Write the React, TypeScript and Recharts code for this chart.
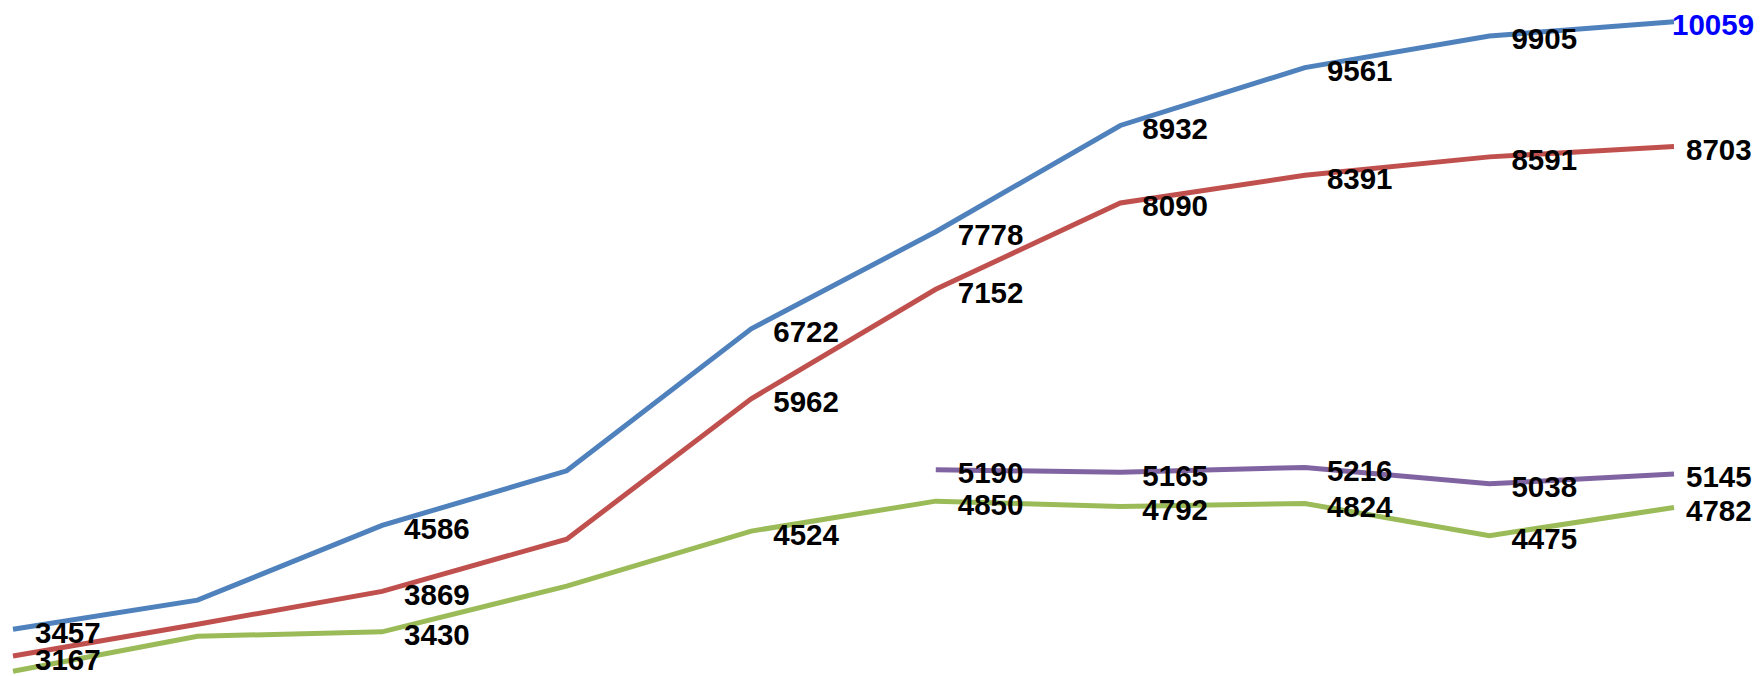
import React from "react";
import { LineChart, Line, XAxis, YAxis, LabelList } from "recharts";

const categories = ["1", "2", "3", "4", "5", "6", "7", "8", "9", "10"];

const blueValues = [3457, 3774, 4586, 5180, 6722, 7778, 8932, 9561, 9905, 10059];
const redValues = [3167, 3513, 3869, 4437, 5962, 7152, 8090, 8391, 8591, 8703];
const greenValues = [3002, 3382, 3430, 3926, 4524, 4850, 4792, 4824, 4475, 4782];
const purpleValues = [null, null, null, null, null, 5190, 5165, 5216, 5038, 5145];

// which points carry a value label
const blueLabeled = [true, false, true, false, true, true, true, true, true, true];
const redLabeled = [true, false, true, false, true, true, true, true, true, true];
const greenLabeled = [false, false, true, false, true, true, true, true, true, true];
const purpleLabeled = [false, false, false, false, false, true, true, true, true, true];

const data = categories.map((c, i) => ({
  name: c,
  blue: blueValues[i],
  red: redValues[i],
  green: greenValues[i],
  purple: purpleValues[i],
}));

const LAST = categories.length - 1;

const makeLabel =
  (flags: boolean[], highlightLast = false) =>
  (props: any) => {
    const { x, y, value, index } = props;
    if (value == null || !flags[index]) return null;
    const isLast = index === LAST;
    let tx = x + 22;
    let fill = "#000000";
    if (isLast) tx = x + 12;
    if (isLast && highlightLast) {
      tx = x - 2;
      fill = "#0000FF";
    }
    return (
      <text
        x={tx}
        y={y + 3}
        fill={fill}
        fontFamily="'Liberation Sans', Arial, sans-serif"
        fontWeight="bold"
        fontSize={29.5}
        textAnchor="start"
        dominantBaseline="central"
      >
        {value}
      </text>
    );
  };

export default function App() {
  return (
    <div style={{ position: "fixed", left: 0, top: 0, width: 1764, height: 676, background: "#fff" }}>
      <LineChart
        width={1764}
        height={676}
        data={data}
        margin={{ top: 18, right: 90, bottom: 0, left: 13 }}
      >
        <XAxis dataKey="name" hide />
        <YAxis hide domain={[2950, 10100]} type="number" allowDataOverflow />
        <Line dataKey="blue" stroke="#4F81BD" strokeWidth={5} dot={false} isAnimationActive={false}>
          <LabelList dataKey="blue" content={makeLabel(blueLabeled, true)} />
        </Line>
        <Line dataKey="red" stroke="#C0504D" strokeWidth={5} dot={false} isAnimationActive={false}>
          <LabelList dataKey="red" content={makeLabel(redLabeled)} />
        </Line>
        <Line dataKey="green" stroke="#9BBB59" strokeWidth={5} dot={false} isAnimationActive={false}>
          <LabelList dataKey="green" content={makeLabel(greenLabeled)} />
        </Line>
        <Line dataKey="purple" stroke="#8064A2" strokeWidth={5} dot={false} isAnimationActive={false}>
          <LabelList dataKey="purple" content={makeLabel(purpleLabeled)} />
        </Line>
      </LineChart>
    </div>
  );
}
